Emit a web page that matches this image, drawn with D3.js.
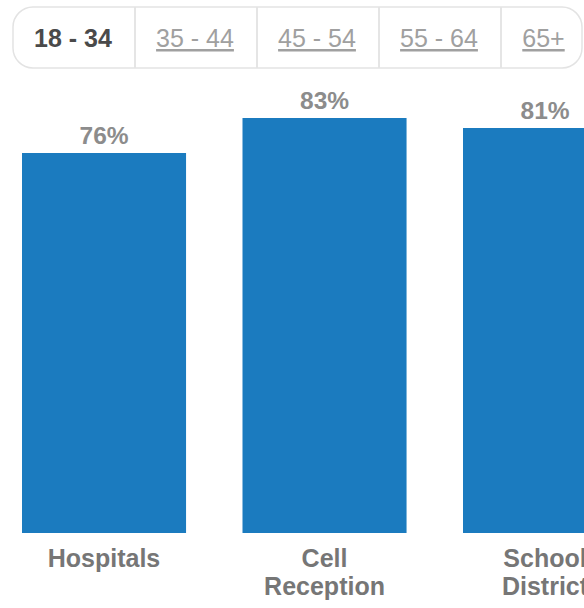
<!DOCTYPE html>
<html>
<head>
<meta charset="utf-8">
<script src="https://cdn.jsdelivr.net/npm/d3@7"></script>
<style>
html,body{margin:0;padding:0;background:#fff;overflow:hidden;}
svg{display:block;}
</style>
</head>
<body>
<svg id="chart" width="584" height="608"></svg>
<script>
const tabs = ["18 - 34", "35 - 44", "45 - 54", "55 - 64", "65+"];
const activeTab = "18 - 34";
const categories = [["Hospitals"], ["Cell", "Reception"], ["School", "District"]];
const categoryKeys = ["Hospitals", "Cell Reception", "School District"];
const values = [76, 83, 81];

const svg = d3.select("#chart");
const font = "'Liberation Sans', Arial, sans-serif";

// Tabs
const tabX = d3.scaleBand().domain(tabs).range([13, 13 + 122 * tabs.length]);
const tabTop = 7, tabH = 61, tabRight = 582;
svg.append("defs").append("clipPath").attr("id", "tabclip")
  .append("rect").attr("x", 13).attr("y", tabTop).attr("width", tabRight - 13).attr("height", tabH).attr("rx", 20);
const tg = svg.append("g").attr("clip-path", "url(#tabclip)");
tg.append("rect").attr("x", 13).attr("y", tabTop).attr("width", tabRight - 13).attr("height", tabH).attr("fill", "#fff");
tg.selectAll("line.div").data(tabs.slice(1)).join("line")
  .attr("x1", d => tabX(d)).attr("x2", d => tabX(d))
  .attr("y1", tabTop).attr("y2", tabTop + tabH)
  .attr("stroke", "#dcdcdc").attr("stroke-width", 1.5);
svg.append("rect").attr("x", 13).attr("y", tabTop).attr("width", tabRight - 13).attr("height", tabH).attr("rx", 20)
  .attr("fill", "none").attr("stroke", "#e3e3e3").attr("stroke-width", 1.5);
svg.selectAll("text.tab").data(tabs).join("text")
  .attr("class", "tab")
  .attr("x", (d, i) => i === tabs.length - 1 ? (tabX(d) + tabRight) / 2 + 2 : tabX(d) + tabX.bandwidth() / 2 - 1)
  .attr("y", 47)
  .attr("text-anchor", "middle")
  .attr("font-family", font)
  .attr("font-size", 25)
  .attr("font-weight", d => d === activeTab ? "bold" : "normal")
  .attr("fill", d => d === activeTab ? "#4a4a4a" : "#a0a0a0")
  .attr("text-decoration", d => d === activeTab ? "none" : "underline")
  .text(d => d);

// Bars
const n = categoryKeys.length;
const step = 220.5;
const x = d3.scaleBand().domain(categoryKeys)
  .range([22 - step * 0.128, 22 - step * 0.128 + step * n])
  .paddingInner(0.256).paddingOuter(0.128);
const y = d3.scaleLinear().domain([0, 100]).range([533, 33]);

svg.selectAll("rect.bar").data(values).join("rect")
  .attr("class", "bar")
  .attr("x", (d, i) => x(categoryKeys[i]))
  .attr("y", d => y(d))
  .attr("width", x.bandwidth())
  .attr("height", d => y(0) - y(d))
  .attr("fill", "#1b7bbf");

svg.selectAll("text.val").data(values).join("text")
  .attr("class", "val")
  .attr("x", (d, i) => x(categoryKeys[i]) + x.bandwidth() / 2)
  .attr("y", d => y(d) - 9)
  .attr("text-anchor", "middle")
  .attr("font-family", font)
  .attr("font-size", 24.5)
  .attr("font-weight", "bold")
  .attr("fill", "#8c8c8c")
  .text(d => d + "%");

const lab = svg.selectAll("text.cat").data(categories).join("text")
  .attr("class", "cat")
  .attr("text-anchor", "middle")
  .attr("font-family", font)
  .attr("font-size", 25)
  .attr("font-weight", "bold")
  .attr("fill", "#767676");
lab.selectAll("tspan").data((d, i) => d.map(t => ({t, i}))).join("tspan")
  .attr("x", d => x(categoryKeys[d.i]) + x.bandwidth() / 2)
  .attr("y", (d, j) => 567 + j * 28)
  .text(d => d.t);
</script>
</body>
</html>
